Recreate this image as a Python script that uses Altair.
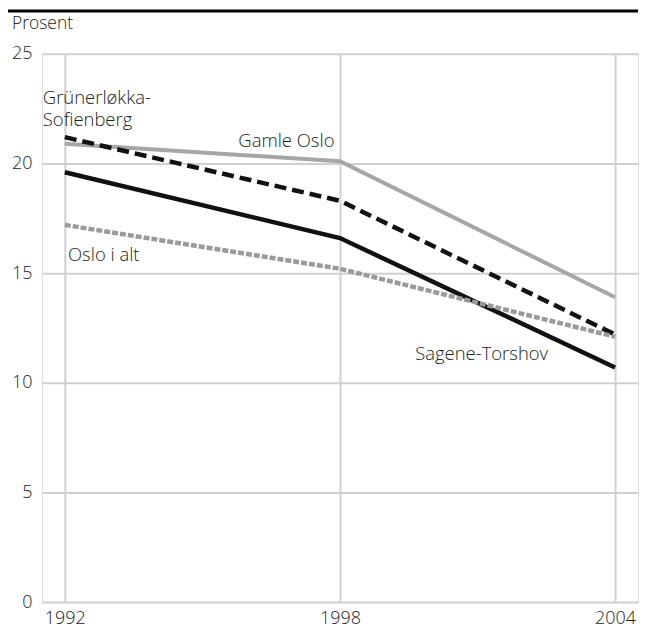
import altair as alt
import pandas as pd

years = [1992, 1998, 2004]
gamle_oslo = [20.9, 20.1, 13.9]
grunerlokka = [21.2, 18.3, 12.2]
sagene = [19.6, 16.6, 10.7]
oslo_i_alt = [17.2, 15.2, 12.1]

series_names = ["Gamle Oslo", "Sagene-Torshov", "Grünerløkka-Sofienberg", "Oslo i alt"]
series_vals = [gamle_oslo, sagene, grunerlokka, oslo_i_alt]

label_text = ["Grünerløkka-\nSofienberg", "Gamle Oslo", "Oslo i alt", "Sagene-Torshov"]
label_x = [1991.52, 1997.88, 1992.07, 1999.64]
label_y = [22.72, 20.77, 15.55, 11.05]
label_align = ["left", "right", "left", "left"]

rows = []
for name, vals in zip(series_names, series_vals):
    for yr, v in zip(years, vals):
        rows.append({"series": name, "year": yr, "value": v})
df = pd.DataFrame(rows)

labels = pd.DataFrame({"text": label_text, "x": label_x, "y": label_y, "align": label_align})

FONT = "Open Sans"
WEIGHT = 300
W, H = 598, 550

xscale = alt.Scale(domain=[1991.5, 2004.5], nice=False, zero=False)
yscale = alt.Scale(domain=[0, 25], nice=False)

base = alt.Chart(df).encode(
    x=alt.X("year:Q", scale=xscale,
            axis=alt.Axis(values=years, format="d", title=None, domain=False, ticks=False,
                          labelFontSize=18, labelFont=FONT, labelFontWeight=WEIGHT,
                          labelColor="#222222",
                          labelPadding=7, gridColor="#d0d0d0", gridWidth=2,
                          labelFlush=False)),
    y=alt.Y("value:Q", scale=yscale,
            axis=alt.Axis(values=[0, 5, 10, 15, 20, 25], title=None, domain=False, ticks=False,
                          labelFontSize=18, labelFont=FONT, labelFontWeight=WEIGHT,
                          labelColor="#222222",
                          labelPadding=10, gridColor="#d0d0d0", gridWidth=2)),
)

styles = {
    "Gamle Oslo": dict(color="#a6a6a6", strokeWidth=4),
    "Sagene-Torshov": dict(color="#111111", strokeWidth=4.5),
    "Grünerløkka-Sofienberg": dict(color="#111111", strokeWidth=4.5, strokeDash=[12, 6]),
    "Oslo i alt": dict(color="#9a9a9a", strokeWidth=4.5, strokeDash=[6, 2]),
}

layers = []
for name in series_names:
    layers.append(base.transform_filter(alt.datum.series == name).mark_line(**styles[name]))

text_layers = []
for al in ["left", "right"]:
    text_layers.append(
        alt.Chart(labels).transform_filter(alt.datum.align == al).mark_text(
            align=al, baseline="alphabetic", fontSize=18.5, font=FONT, fontWeight=WEIGHT,
            color="#222222", lineBreak="\n", lineHeight=22
        ).encode(x=alt.X("x:Q", scale=xscale), y=alt.Y("y:Q", scale=yscale), text="text:N")
    )

prosent = alt.Chart(pd.DataFrame({"t": ["Prosent"]})).mark_text(
    align="left", baseline="alphabetic", fontSize=17.5, font=FONT, fontWeight=WEIGHT,
    color="#222222"
).encode(x=alt.value(-30), y=alt.value(-25), text="t:N")

top_rule = alt.Chart(pd.DataFrame({"a": [0]})).mark_rule(color="#000000", strokeWidth=3).encode(
    x=alt.value(-34), x2=alt.value(W), y=alt.value(-43)
)

chart = alt.layer(*layers, *text_layers, prosent, top_rule).properties(
    width=W, height=H,
    autosize=alt.AutoSizeParams(type="none"),
    padding={"left": 34, "top": 45, "right": 4, "bottom": 31},
).configure_view(stroke="#d0d0d0", strokeWidth=2).configure(background="white")

chart.save("out.html", embed_options={"renderer": "svg", "actions": False})
